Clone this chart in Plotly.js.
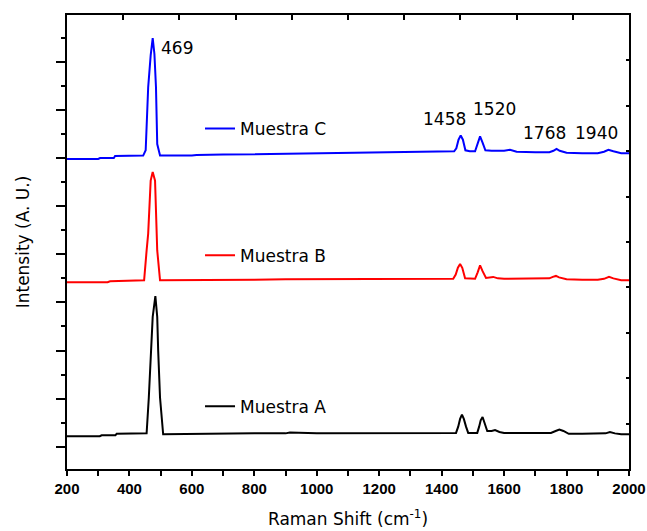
<!DOCTYPE html>
<html>
<head>
<meta charset="utf-8">
<script src="https://cdn.plot.ly/plotly-3.0.1.min.js"></script>
<style>html,body{margin:0;padding:0;background:#fff;}</style>
</head>
<body>
<div id="chart" style="width:647px;height:531px;"></div>
<script>
// ---- Data ----
const seriesNames = ['Muestra A', 'Muestra B', 'Muestra C'];
const peakLabels = ['469', '1458', '1520', '1768', '1940'];

const xA = [200, 305, 311, 355, 359, 455, 462, 468, 474.5, 483, 489, 492, 498, 508, 600, 700, 800, 900, 914, 1000, 1100, 1200, 1300, 1400, 1446, 1453, 1459, 1465, 1471, 1478, 1485, 1500, 1514, 1520, 1525, 1531, 1537, 1546, 1560, 1571, 1585, 1600, 1700, 1750, 1765, 1777, 1790, 1807, 1850, 1900, 1925, 1939, 1955, 1975, 2000];
const yA = [0.22, 0.22, 0.24, 0.24, 0.27, 0.28, 1.02, 2.0, 2.7, 3.13, 2.7, 2.0, 1.02, 0.26, 0.27, 0.27, 0.28, 0.28, 0.30, 0.28, 0.28, 0.29, 0.29, 0.29, 0.29, 0.42, 0.58, 0.67, 0.58, 0.42, 0.29, 0.29, 0.29, 0.42, 0.55, 0.62, 0.52, 0.33, 0.33, 0.35, 0.31, 0.29, 0.29, 0.29, 0.33, 0.36, 0.33, 0.27, 0.27, 0.27, 0.28, 0.31, 0.28, 0.26, 0.26];

const xB = [200, 330, 338, 440, 447, 455, 460, 468, 474.5, 482, 487, 489, 498, 600, 700, 800, 900, 1000, 1100, 1170, 1200, 1300, 1400, 1437, 1445, 1452, 1459, 1466, 1475, 1490, 1507, 1515, 1523, 1531, 1542, 1565, 1580, 1600, 1700, 1745, 1756, 1766, 1776, 1800, 1850, 1900, 1920, 1936, 1950, 1975, 2000];
const yB = [3.42, 3.42, 3.44, 3.45, 3.46, 4.08, 4.43, 5.53, 5.71, 5.53, 4.43, 4.08, 3.46, 3.46, 3.47, 3.47, 3.48, 3.48, 3.48, 3.49, 3.49, 3.49, 3.49, 3.49, 3.58, 3.72, 3.80, 3.72, 3.50, 3.49, 3.49, 3.62, 3.77, 3.65, 3.51, 3.53, 3.50, 3.49, 3.49, 3.50, 3.53, 3.55, 3.52, 3.48, 3.47, 3.47, 3.49, 3.53, 3.50, 3.46, 3.46];

const xC = [200, 300, 306, 350, 354, 444, 452, 460, 468, 474.5, 480, 485, 489, 498, 600, 615, 700, 800, 900, 1000, 1100, 1200, 1267, 1300, 1400, 1440, 1447, 1454, 1461, 1468, 1476, 1490, 1507, 1515, 1523, 1531, 1540, 1560, 1600, 1619, 1640, 1700, 1745, 1758, 1768, 1778, 1800, 1850, 1900, 1920, 1934, 1950, 1975, 2000];
const yC = [5.98, 5.98, 6.00, 6.00, 6.04, 6.05, 6.16, 7.47, 8.13, 8.49, 8.16, 7.47, 6.29, 6.05, 6.05, 6.06, 6.07, 6.08, 6.09, 6.10, 6.11, 6.11, 6.12, 6.12, 6.13, 6.14, 6.20, 6.38, 6.47, 6.38, 6.16, 6.14, 6.14, 6.30, 6.45, 6.32, 6.16, 6.15, 6.15, 6.17, 6.13, 6.12, 6.12, 6.15, 6.19, 6.15, 6.11, 6.10, 6.10, 6.13, 6.17, 6.14, 6.10, 6.10];

// ---- Styles ----
const txtFont = {family: 'DejaVu Sans, Arial, sans-serif', size: 17, color: '#000'};
const tickFont = {family: 'Liberation Sans, Arial, sans-serif', size: 15, color: '#000', weight: 'bold'};

const traces = [
  {x: xA, y: yA, name: seriesNames[0], legend: 'legend3', line: {color: '#000000', width: 2}},
  {x: xB, y: yB, name: seriesNames[1], legend: 'legend2', line: {color: '#FF0000', width: 2}},
  {x: xC, y: yC, name: seriesNames[2], legend: 'legend', line: {color: '#0000FF', width: 2}}
].map(t => Object.assign({type: 'scatter', mode: 'lines', hoverinfo: 'skip'}, t));

// empty traces so that the top and right frame axes are drawn
traces.push({type: 'scatter', mode: 'lines', x: [], y: [], xaxis: 'x2', yaxis: 'y', showlegend: false, hoverinfo: 'skip'});
traces.push({type: 'scatter', mode: 'lines', x: [], y: [], xaxis: 'x', yaxis: 'y2', showlegend: false, hoverinfo: 'skip'});

const legendBase = {xanchor: 'left', yanchor: 'middle', bgcolor: 'rgba(0,0,0,0)', borderwidth: 0, font: txtFont};

const annPos = [
  {x: 494, y: 8.29, xanchor: 'left'},
  {x: 1409, y: 6.82, xanchor: 'center'},
  {x: 1569, y: 7.01, xanchor: 'center'},
  {x: 1729, y: 6.51, xanchor: 'center'},
  {x: 1896, y: 6.51, xanchor: 'center'}
];
const annotations = peakLabels.map((t, i) => Object.assign({
  text: t, xref: 'x', yref: 'y', showarrow: false, yanchor: 'middle', font: txtFont
}, annPos[i]));

const layout = {
  width: 647, height: 531,
  margin: {l: 67, r: 18, t: 15, b: 62, pad: 0},
  paper_bgcolor: '#fff', plot_bgcolor: '#fff',
  showlegend: true,
  legend: Object.assign({x: 0.2367, y: 0.749}, legendBase),
  legend2: Object.assign({x: 0.2367, y: 0.470}, legendBase),
  legend3: Object.assign({x: 0.2367, y: 0.137}, legendBase),
  xaxis: {
    range: [200, 2000], tick0: 200, dtick: 200, ticks: 'outside', ticklen: 5, tickwidth: 2, tickcolor: '#000',
    showline: true, linewidth: 2, linecolor: '#000', showgrid: false, zeroline: false,
    tickfont: tickFont,
    minor: {dtick: 100, ticks: 'outside', ticklen: 5, tickwidth: 2, tickcolor: '#000', showgrid: false},
    title: {text: 'Raman Shift (cm<sup>-1</sup>)', font: txtFont, standoff: 17}
  },
  xaxis2: {
    overlaying: 'x', side: 'top', anchor: 'y', range: [0, 10], tick0: 0, dtick: 1,
    ticks: 'inside', ticklen: 5, tickwidth: 2, tickcolor: '#000', showticklabels: false,
    showline: true, linewidth: 2, linecolor: '#000', showgrid: false, zeroline: false
  },
  yaxis: {
    range: [-0.46, 8.97], tick0: 0, dtick: 1, ticks: 'outside', ticklen: 9, tickwidth: 2, tickcolor: '#000',
    showticklabels: false, showline: true, linewidth: 2, linecolor: '#000', showgrid: false, zeroline: false,
    minor: {dtick: 0.5, ticks: 'outside', ticklen: 4.5, tickwidth: 2, tickcolor: '#000', showgrid: false},
    title: {text: 'Intensity (A. U.)', font: txtFont, standoff: 22}
  },
  yaxis2: {
    overlaying: 'y', side: 'right', anchor: 'x', range: [0, 10], tick0: 0, dtick: 1,
    ticks: 'inside', ticklen: 3.5, tickwidth: 2, tickcolor: '#000', showticklabels: false,
    showline: true, linewidth: 2, linecolor: '#000', showgrid: false, zeroline: false
  },
  annotations: annotations
};

Plotly.newPlot('chart', traces, layout, {staticPlot: true, displayModeBar: false});
</script>
</body>
</html>
